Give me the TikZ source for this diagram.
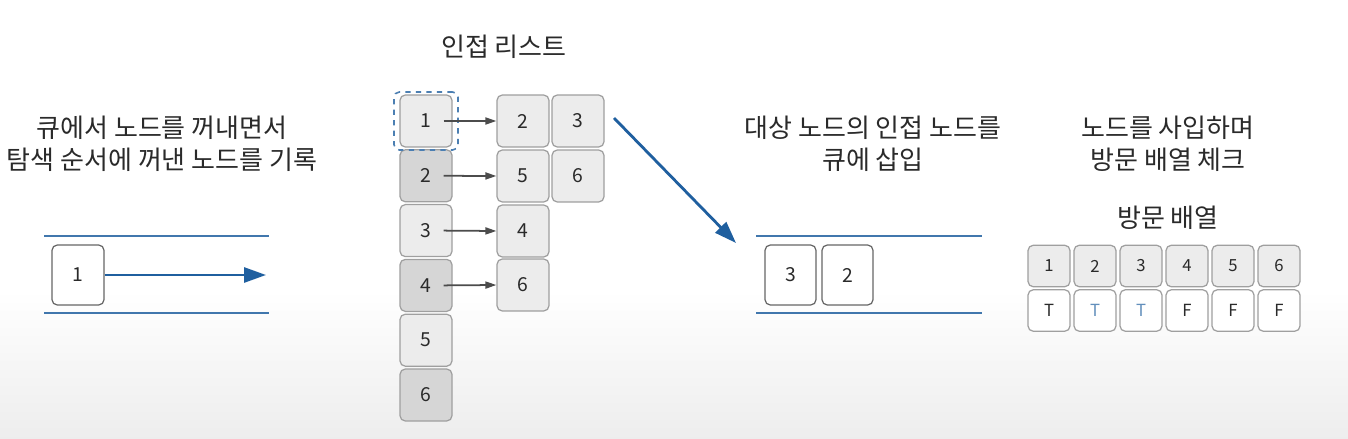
\documentclass[tikz,border=0pt]{standalone}
\usepackage{fontspec}
\setmainfont{Noto Sans CJK KR}
\usetikzlibrary{arrows.meta}
\definecolor{qblue}{HTML}{1F5F9F}
\definecolor{txt}{HTML}{2A2A2A}

\begin{document}
\begin{tikzpicture}[x=0.02cm, y=-0.02cm,
	every node/.style={text=txt},
	title/.style={font=\fontsize{14.8}{18}\selectfont, align=center},
	cell/.style={draw=gray!75, rounded corners=3pt, line width=0.7pt, fill=gray!15,
		minimum width=1.04cm, minimum height=1.04cm, inner sep=0pt, font=\fontsize{11}{11}\selectfont},
	darkcell/.style={cell, fill=gray!32},
	qcell/.style={cell, fill=white, draw=gray!80!black, minimum height=1.2cm},
	vcell/.style={cell, minimum width=0.84cm, minimum height=0.83cm, font=\fontsize{9.5}{9.5}\selectfont},
	qline/.style={draw=qblue!85, line width=0.9pt},
	bigarrow/.style={draw=qblue, line width=1.6pt, -{Triangle[length=0.44cm, width=0.3cm]}},
	listarrow/.style={draw=gray!60!black, line width=1pt, -{Triangle[length=0.22cm, width=0.14cm]}}]

	% background
	\fill[white] (0,0) rectangle (1348,439);
	\shade[top color=white, bottom color=gray!14] (0,290) rectangle (1348,439);

	% left: dequeue
	\node[title] (t1) at (162,144) {큐에서 노드를 꺼내면서\\탐색 순서에 꺼낸 노드를 기록};
	\draw[qline] (44,236) -- (269,236);
	\draw[qline] (44,313) -- (269,313);
	\node[qcell] (q1) at (78,275) {1};
	\coordinate (qout) at (266,275);
	\draw[bigarrow] (q1.east) -- (qout);

	% adjacency list
	\node[title] (t2) at (504,47) {인접 리스트};
	\foreach \i in {1, 3, 5}
		\node[cell] (l\i) at (426, 121+54.8*\i-54.8) {\i};
	\foreach \i in {2, 4, 6}
		\node[darkcell] (l\i) at (426, 121+54.8*\i-54.8) {\i};
	\node[draw=qblue!80, dashed, line width=0.9pt, rounded corners=3pt,
		minimum width=1.28cm, minimum height=1.16cm] (sel) at (l1) {};

	\node[cell] (a12) at (523,121) {2};
	\node[cell] (a13) at (578,121) {3};
	\node[cell] (a25) at (523,176) {5};
	\node[cell] (a26) at (578,176) {6};
	\node[cell] (a34) at (523,231) {4};
	\node[cell] (a46) at (523,285) {6};

	\draw[listarrow] ([xshift=-0.18cm]l1.east) -- (a12.west);
	\draw[listarrow] ([xshift=-0.18cm]l2.east) -- (a25.west);
	\draw[listarrow] ([xshift=-0.18cm]l3.east) -- (a34.west);
	\draw[listarrow] ([xshift=-0.18cm]l4.east) -- (a46.west);

	\coordinate (din) at (614,118);
	\coordinate (dout) at (736,243);
	\draw[bigarrow] (din) -- (dout);

	% right queue: enqueue
	\node[title] (t3) at (873,144) {대상 노드의 인접 노드를\\큐에 삽입};
	\draw[qline] (756,236) -- (982,236);
	\draw[qline] (756,313) -- (982,313);
	\node[qcell, minimum width=1.02cm] (q3) at (790.5,275) {3};
	\node[qcell, minimum width=1.02cm] (q2) at (847.5,275) {2};

	% visit array
	\node[title] (t4) at (1168,144) {노드를 사입하며\\방문 배열 체크};
	\node[title] (t5) at (1168,218) {방문 배열};
	\foreach \i/\v/\c in {1/T/txt, 2/T/qblue!70, 3/T/qblue!70, 4/F/txt, 5/F/txt, 6/F/txt} {
		\node[vcell] (v\i) at (1049+46*\i-46, 266) {\i};
		\node[vcell, fill=white, text=\c] (c\i) at (1049+46*\i-46, 310.5) {\v};
	}
\end{tikzpicture}
\end{document}
